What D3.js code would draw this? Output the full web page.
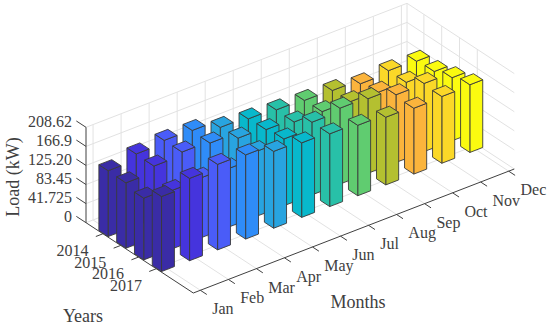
<!DOCTYPE html>
<html>
<head>
<meta charset="utf-8">
<script src="https://cdn.jsdelivr.net/npm/d3@7"></script>
<style>
  html, body { margin: 0; padding: 0; background: #fff; }
  text { font-family: "Liberation Serif", serif; fill: #404040; }
  .tick-label { font-size: 16px; }
  .axis-title { font-size: 18px; }
</style>
</head>
<body>
<div id="chart"></div>
<script>
const months = ["Jan", "Feb", "Mar", "Apr", "May", "Jun", "Jul", "Aug", "Sep", "Oct", "Nov", "Dec"];
const years = [2014, 2015, 2016, 2017];
const loadTicks = [0, 41.725, 83.45, 125.2, 166.9, 208.62];
const loadTickLabels = ["0", "41.725", "83.45", "125.20", "166.9", "208.62"];

const load2014 = [144, 157, 163, 161, 144, 139, 135, 132, 130, 121, 126, 123];
const load2015 = [143, 156, 163, 159, 146, 141, 134, 133, 131, 128, 126, 126];
const load2016 = [135, 128, 131, 128, 142, 146, 159, 166, 163, 148, 149, 138];
const load2017 = [164, 180, 187, 184, 168, 163, 159, 154, 148, 144, 146, 148];
const loadsByYear = [load2014, load2015, load2016, load2017];

const monthColors = ["#3a2ca6", "#4534dd", "#4a5cf8", "#2f8cf8", "#28a4e0", "#08b8cc",
  "#28c0a8", "#60cc70", "#b4c030", "#fbb43c", "#fbd828", "#fbfb10"];

const width = 550;
const height = 327;

// corners of the projected box
const origin = { x: 86, y: 222.7 };
const monthVec = { x: 321, y: -124 };
const yearVec = { x: 107.3, y: 70.3 };
const loadVec = { x: 0, y: -95.4 };

const uScale = d3.scaleLinear().domain([0, 11]).range([0.022, 0.9825]);
const vScale = d3.scaleLinear().domain([2014, 2017]).range([0.1575, 0.655]);
const wScale = d3.scaleLinear().domain([0, 208.62]).range([0, 1]);

function project(u, v, w) {
  return [
    origin.x + u * monthVec.x + v * yearVec.x + w * loadVec.x,
    origin.y + u * monthVec.y + v * yearVec.y + w * loadVec.y,
  ];
}

const svg = d3.select("#chart").append("svg").attr("width", width).attr("height", height);
const line = d3.line();

const grid = svg.append("g").attr("fill", "none").attr("stroke", "#e2e2e2").attr("stroke-width", 1);
function gridLine(a, b) {
  grid.append("path").attr("d", line([a, b]));
}

// floor + walls
months.forEach((m, i) => {
  const u = uScale(i);
  gridLine(project(u, 0, 0), project(u, 1, 0));
  gridLine(project(u, 0, 0), project(u, 0, 1));
});
years.forEach((y) => {
  const v = vScale(y);
  gridLine(project(0, v, 0), project(1, v, 0));
  gridLine(project(1, v, 0), project(1, v, 1));
});
loadTicks.forEach((t) => {
  const w = wScale(t);
  gridLine(project(0, 0, w), project(1, 0, w));
  gridLine(project(1, 0, w), project(1, 1, w));
});
gridLine(project(1, 0, 0), project(1, 0, 1));

// axis lines
const axes = svg.append("g").attr("fill", "none").attr("stroke", "#404040").attr("stroke-width", 1);
function axisLine(a, b) {
  axes.append("path").attr("d", line([a, b]));
}
axisLine(project(0, 0, 0), project(0, 0, 1));
axisLine(project(0, 0, 0), project(0, 1, 0));
axisLine(project(0, 1, 0), project(1, 1, 0));

// load axis ticks + labels
const labels = svg.append("g");
loadTicks.forEach((t, i) => {
  const p = project(0, 0, wScale(t));
  axisLine(p, project(0, -0.09, wScale(t)));
  labels.append("text").attr("class", "tick-label")
    .attr("x", 72).attr("y", p[1] - 6).attr("dy", "0.33em")
    .attr("text-anchor", "end").text(loadTickLabels[i]);
});

// year ticks
years.forEach((y) => {
  const v = vScale(y);
  const p = project(0, v, 0);
  axisLine(p, project(-0.022, v, 0));
  labels.append("text").attr("class", "tick-label")
    .attr("x", p[0] - 14.4).attr("y", p[1] + 17).attr("dy", "0.33em")
    .attr("text-anchor", "end").text(y);
});

// month ticks
months.forEach((m, i) => {
  const u = uScale(i);
  const p = project(u, 1, 0);
  axisLine(p, project(u, 1.06, 0));
  labels.append("text").attr("class", "tick-label")
    .attr("x", p[0] + 11.8).attr("y", p[1] + 18.7).attr("dy", "0.33em")
    .text(m);
});

labels.append("text").attr("class", "axis-title")
  .attr("x", 358).attr("y", 308).attr("text-anchor", "middle").text("Months");
labels.append("text").attr("class", "axis-title")
  .attr("x", 83).attr("y", 321.5).attr("text-anchor", "middle").text("Years");
labels.append("text").attr("class", "axis-title")
  .attr("transform", "translate(19,177) rotate(-90)")
  .attr("text-anchor", "middle").text("Load (kW)");

// bars, back to front
const halfMonth = (uScale(1) - uScale(0)) * 0.23;
const halfYear = (vScale(2015) - vScale(2014)) * 0.26;

const bars = [];
years.forEach((y, j) => {
  d3.range(months.length - 1, -1, -1).forEach((i) => {
    bars.push({ month: i, year: y, load: loadsByYear[j][i] });
  });
});

const barGroup = svg.selectAll(".bar").data(bars).enter().append("g")
  .attr("class", "bar")
  .attr("fill", (d) => monthColors[d.month])
  .attr("stroke", "#3a3a3a")
  .attr("stroke-width", 0.9)
  .attr("stroke-linejoin", "round");

barGroup.each(function (d) {
  const g = d3.select(this);
  const u = uScale(d.month);
  const v = vScale(d.year);
  const w = wScale(d.load);
  const u0 = u - halfMonth, u1 = u + halfMonth;
  const v0 = v - halfYear, v1 = v + halfYear;
  // side facing the months axis
  g.append("path").attr("d", line([project(u0, v1, 0), project(u1, v1, 0), project(u1, v1, w), project(u0, v1, w)]) + "Z");
  // side facing the years axis
  g.append("path").attr("d", line([project(u0, v0, 0), project(u0, v1, 0), project(u0, v1, w), project(u0, v0, w)]) + "Z");
  // top
  g.append("path").attr("d", line([project(u0, v0, w), project(u1, v0, w), project(u1, v1, w), project(u0, v1, w)]) + "Z");
});
</script>
</body>
</html>
